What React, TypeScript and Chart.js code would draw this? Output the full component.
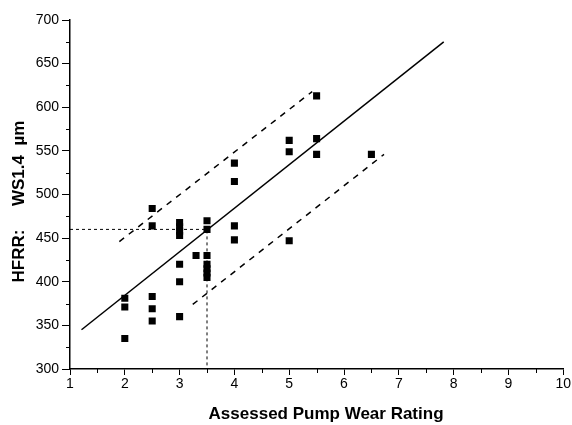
import React, { useEffect, useRef } from "react";
import { Chart, registerables } from "chart.js";

Chart.register(...registerables);

const pumpWear: number[] = [2, 2, 2, 2.5, 2.5, 2.5, 2.5, 2.5, 3, 3, 3, 3, 3, 3, 3, 3.3, 3.5, 3.5, 3.5, 3.5, 3.5, 3.5, 3.5, 4, 4, 4, 4, 5, 5, 5, 5.5, 5.5, 5.5, 6.5];
const hfrr: number[] = [381, 371, 335, 484, 464, 383, 369, 355, 468, 463, 458, 453, 420, 400, 360, 430, 470, 460, 430, 420, 415, 410, 405, 536, 515, 464, 448, 562, 549, 447, 613, 564, 546, 546];

const fitX: number[] = [1.21, 7.82];
const fitY: number[] = [345, 675];
const upperX: number[] = [1.9, 5.42];
const upperY: number[] = [446, 618];
const lowerX: number[] = [3.24, 6.73];
const lowerY: number[] = [374, 546];
const refX: number[] = [1, 3.5, 3.5];
const refY: number[] = [460, 460, 300];

const xMin = 1, xMax = 10, yMin = 300, yMax = 700;

const pts = (xs: number[], ys: number[]) => xs.map((x, i) => ({ x, y: ys[i] }));

const minorTicks = {
  id: "minorTicks",
  afterDraw(chart: any) {
    const ctx = chart.ctx;
    const xs = chart.scales.x;
    const ys = chart.scales.y;
    ctx.save();
    ctx.strokeStyle = "#000";
    ctx.lineWidth = 1;
    ctx.beginPath();
    for (let v = 1.5; v < xMax; v += 1) {
      const px = Math.round(xs.getPixelForValue(v)) + 0.5;
      ctx.moveTo(px, xs.top);
      ctx.lineTo(px, xs.top + 4);
    }
    for (let v = 325; v < yMax; v += 50) {
      const py = Math.round(ys.getPixelForValue(v)) + 0.5;
      ctx.moveTo(ys.right, py);
      ctx.lineTo(ys.right - 4, py);
    }
    ctx.stroke();
    ctx.restore();
  },
};

export default function App() {
  const ref = useRef<HTMLCanvasElement | null>(null);
  useEffect(() => {
    if (!ref.current) return;
    const font = "'Liberation Sans', Arial, sans-serif";
    const chart = new Chart(ref.current, {
      type: "scatter",
      data: {
        datasets: [
          {
            data: pts(refX, refY),
            showLine: true,
            borderColor: "#000",
            borderWidth: 1,
            borderDash: [3, 3],
            pointRadius: 0,
          },
          {
            data: pts(fitX, fitY),
            showLine: true,
            borderColor: "#000",
            borderWidth: 1.5,
            pointRadius: 0,
          },
          {
            data: pts(upperX, upperY),
            showLine: true,
            borderColor: "#000",
            borderWidth: 1.5,
            borderDash: [6, 6],
            pointRadius: 0,
          },
          {
            data: pts(lowerX, lowerY),
            showLine: true,
            borderColor: "#000",
            borderWidth: 1.5,
            borderDash: [6, 6],
            pointRadius: 0,
          },
          {
            data: pts(pumpWear, hfrr),
            showLine: false,
            pointStyle: "rect",
            pointRadius: 5,
            backgroundColor: "#000",
            borderColor: "#000",
            borderWidth: 0,
          },
        ],
      },
      options: {
        animation: false,
        responsive: false,
        layout: { padding: { top: 20, right: 7, left: 0, bottom: 0 } },
        plugins: { legend: { display: false }, tooltip: { enabled: false } },
        scales: {
          x: {
            type: "linear",
            min: xMin,
            max: xMax,
            afterFit: (s: any) => { s.height = 56; },
            ticks: { stepSize: 1, color: "#000", font: { family: font, size: 14 }, padding: 1 },
            grid: { display: true, drawOnChartArea: false, tickLength: 6, color: "#000" },
            border: { display: true, color: "#000", width: 1.5 },
            title: {
              display: true,
              text: "    Assessed Pump Wear Rating",
              color: "#000",
              font: { family: font, size: 17, weight: "bold" },
              padding: { top: 6, bottom: 0 },
            },
          },
          y: {
            type: "linear",
            min: yMin,
            max: yMax,
            afterFit: (s: any) => { s.width = 70; },
            ticks: { stepSize: 50, color: "#000", font: { family: font, size: 14 }, padding: 3 },
            grid: { display: true, drawOnChartArea: false, tickLength: 8, color: "#000" },
            border: { display: true, color: "#000", width: 1.5 },
            title: {
              display: true,
              text: "HFRR:     WS1.4  µm   ",
              color: "#000",
              font: { family: font, size: 17, weight: "bold" },
              padding: { top: 9, bottom: 0 },
            },
          },
        },
      },
      plugins: [minorTicks],
    });
    return () => chart.destroy();
  }, []);
  return (
    <div style={{ position: "fixed", left: 0, top: 0, width: 572, height: 425, background: "#fff" }}>
      <canvas ref={ref} width={572} height={425} style={{ width: 572, height: 425 }} />
    </div>
  );
}
